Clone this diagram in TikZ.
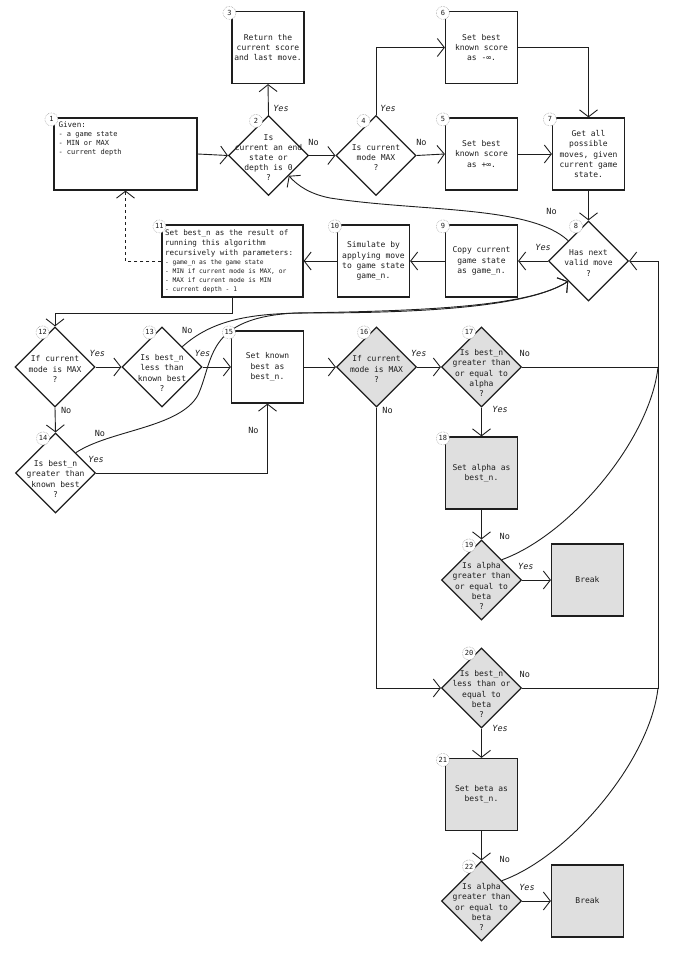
\documentclass[tikz,border=0pt]{standalone}
\usepackage{fontspec}
\setmainfont{DejaVu Sans Mono}
\usetikzlibrary{arrows.meta,shapes.geometric,calc}
\definecolor{ink}{HTML}{1E1E1E}
\definecolor{grey1}{HTML}{A0A0A0}
\definecolor{fillg}{HTML}{DFDFDF}
\newcommand{\bfs}{\fontsize{8}{10.2}\selectfont}
\newcommand{\mfs}{\fontsize{7.6}{9.8}\selectfont}
\newcommand{\gfs}{\fontsize{7}{9}\selectfont}
\newcommand{\sfs}{\fontsize{6.3}{9}\selectfont}
\newcommand{\nfs}{\fontsize{7}{8}\selectfont}
\newcommand{\lfs}{\fontsize{8.5}{9}\selectfont}

\begin{document}
\begin{tikzpicture}[x=1pt,y=-1pt,ink,font=\bfs,line width=0.9pt,
  box/.style={draw,line width=1.2pt,minimum width=72pt,minimum height=72pt,inner sep=2pt,align=center},
  dec/.style={diamond,draw,line width=1.2pt,minimum width=80pt,minimum height=80pt,inner sep=0pt},
  qtxt/.style={align=center,font=\bfs,yshift=-2pt},
  qlow/.style={qtxt,yshift=-4pt},
  grey/.style={fill=fillg},
  num/.style={circle,draw=grey1,densely dotted,line width=0.6pt,fill=white,minimum size=13pt,inner sep=0pt,font=\nfs},
  lbl/.style={font=\lfs,inner sep=1.5pt},
  yes/.style={font=\lfs\itshape,inner sep=1.5pt},
  arr/.style={-{Straight Barb[length=7pt,width=18pt]}}]
  \useasboundingbox (0,0) rectangle (683,957);
  % upper part: entry, end test, initial best score
  \node[box,minimum width=143pt,inner sep=4pt] (n1) at (125.5,154) {\parbox[c][64pt][t]{134pt}{\raggedright\mfs Given:\par\gfs - a game state\\- MIN or MAX\\- current depth\par}};
  \node[dec,label={[qtxt]center:{Is\\current an end\\state or\\depth is 0\\?}}] (n2) at (268.5,155.5) {};
  \node[box] (n3) at (268,47.5) {Return the\\current score\\and last move.};
  \node[dec,label={[qtxt]center:{Is current\\mode MAX\\?}}] (n4) at (376,155.5) {};
  \node[box] (n5) at (481.5,154) {Set best\\known score\\as +∞.};
  \node[box] (n6) at (481.5,47.5) {Set best\\known score\\as -∞.};
  \node[box] (n7) at (588.5,154) {Get all\\possible\\moves, given\\current game\\state.};
  % move loop
  \node[dec,label={[qtxt]center:{Has next\\valid move\\?}}] (n8) at (588.5,261) {};
  \node[box] (n9) at (481.5,261) {Copy current\\game state\\as game\_n.};
  \node[box] (n10) at (373.5,261) {Simulate by\\applying move\\to game state\\game\_n.};
  \node[box,minimum width=141pt,inner sep=3pt] (n11) at (232.5,261) {\parbox{135pt}{\raggedright{\mfs Set best\_n as the result of\\running this algorithm\\recursively with parameters:\par}{\sfs - game\_n as the game state\\- MIN if current mode is MAX, or\\- MAX if current mode is MIN\\- current depth - 1\par}}};
  % compare with known best
  \node[dec,label={[qtxt]center:{If current\\mode is MAX\\?}}] (n12) at (55,367) {};
  \node[dec,label={[qlow]center:{Is best\_n\\less than\\known best\\?}}] (n13) at (162,367) {};
  \node[dec,label={[qlow]center:{Is best\_n\\greater than\\known best\\?}}] (n14) at (55.5,473) {};
  \node[box] (n15) at (267.5,367) {Set known\\best as\\best\_n.};
  % alpha / beta pruning
  \node[dec,grey,label={[qtxt]center:{If current\\mode is MAX\\?}}] (n16) at (376.5,367) {};
  \node[dec,grey,label={[qlow]center:{Is best\_n\\greater than\\or equal to\\alpha\\?}}] (n17) at (481.5,367) {};
  \node[box,grey] (n18) at (481.5,473) {Set alpha as\\best\_n.};
  \node[dec,grey,label={[qlow]center:{Is alpha\\greater than\\or equal to\\beta\\?}}] (n19) at (481.5,580) {};
  \node[box,grey] (brk1) at (587.5,580) {Break};
  \node[dec,grey,label={[qlow]center:{Is best\_n\\less than or\\equal to\\beta\\?}}] (n20) at (481.5,688) {};
  \node[box,grey] (n21) at (481.5,794.5) {Set beta as\\best\_n.};
  \node[dec,grey,label={[qlow]center:{Is alpha\\greater than\\or equal to\\beta\\?}}] (n22) at (481.5,901) {};
  \node[box,grey] (brk2) at (587.5,901) {Break};
  \coordinate (rail) at (658,0);
  % connectors
  \draw[arr] (n1.east) -- (n2.west);
  \draw[arr] (n2.north) -- node[yes,right=3pt,pos=0.2]{Yes} (n3.south);
  \draw[arr] (n2.east) -- node[lbl,above=8pt,pos=0.17]{No} (n4.west);
  \draw[arr] (n4.north) |- node[yes,right=2.5pt,pos=0.05]{Yes} (n6.west);
  \draw[arr] (n4.east) -- node[lbl,above=8pt,pos=0.17]{No} (n5.west);
  \draw[arr] (n5.east) -- (n7.west);
  \draw[arr] (n6.east) -| (n7.north);
  \draw[arr] (n7.south) -- (n8.north);
  \draw[arr] (n8.west) -- node[yes,above=8pt,pos=0.16]{Yes} (n9.east);
  \draw[arr] (n9.west) -- (n10.east);
  \draw[arr] (n10.west) -- (n11.east);
  \draw[arr] (n8.north west) .. controls (530,205) and (420,212) .. (330,198) node[lbl,pos=0.12,above=13pt]{No} .. controls (310,194) and (298,186) .. (n2.south east);
  \draw[arr,dashed] (n11.west) -| (n1.south);
  \draw[arr] (n11.south) -- ++(0,16) -| (n12.north);
  \draw[arr] (n12.east) -- node[yes,above=8pt,pos=0.07]{Yes} (n13.west);
  \draw[arr] (n12.south) -- node[lbl,right=4pt,pos=0.12]{No} (n14.north);
  \draw[arr] (n13.east) -- node[yes,above=8pt,pos=0]{Yes} (n15.west);
  \draw[arr] (n13.north east) .. controls (212,320) and (250,313) .. (310,313) node[lbl,pos=0,above=11pt,xshift=5pt]{No} .. controls (430,313) and (530,306) .. (n8.south west);
  \draw[arr] (n14.east) -| node[yes,above=8pt,pos=0]{Yes} node[lbl,left=7pt,pos=0.81]{No} (n15.south);
  \draw[arr] (n14.north east) .. controls (110,430) and (180,428) .. (198,395) node[lbl,pos=0.2,above=3pt]{No} .. controls (214,360) and (205,318) .. (295,313) .. controls (430,311) and (530,306) .. (n8.south west);
  \draw[arr] (n15.east) -- (n16.west);
  \draw[arr] (n16.east) -- node[yes,above=8pt,pos=0.07]{Yes} (n17.west);
  \draw[arr] (n16.south) |- node[lbl,right=4pt,pos=0.005]{No} (n20.west);
  \draw (n17.east) -- node[lbl,above=8pt,pos=0.02]{No} (rail |- n17.east);
  \draw[arr] (n17.south) -- node[yes,right=9pt,pos=0.07]{Yes} (n18.north);
  \draw[arr] (n18.south) -- (n19.north);
  \draw[arr] (n19.east) -- node[yes,above=8pt,pos=0.13]{Yes} (brk1.west);
  \draw (n19.north east) .. controls (570,535) and (650,440) .. (rail |- n17.east) node[lbl,pos=0,above=18pt,xshift=3pt]{No};
  \draw[arr] (n20.east) -- node[lbl,above=8pt,pos=0.02]{No} (rail |- n20.east) |- (n8.east);
  \draw[arr] (n20.south) -- node[yes,right=9pt,pos=0]{Yes} (n21.north);
  \draw[arr] (n21.south) -- (n22.north);
  \draw[arr] (n22.east) -- node[yes,above=8pt,pos=0.17]{Yes} (brk2.west);
  \draw (n22.north east) .. controls (570,856) and (650,760) .. (rail |- n20.east) node[lbl,pos=0,above=16pt,xshift=3pt]{No};
  % step numbers
  \foreach \k in {1,3,5,6,7,9,10,11,15,18,21} \node[num] (k\k) at ($(n\k.north west)+(-2,2)$) {\k};
  \foreach \k in {2,4,8,12,13,14,16,17,19,20,22} \node[num] (k\k) at ($(n\k.north)+(-12.5,6)$) {\k};
\end{tikzpicture}
\end{document}
